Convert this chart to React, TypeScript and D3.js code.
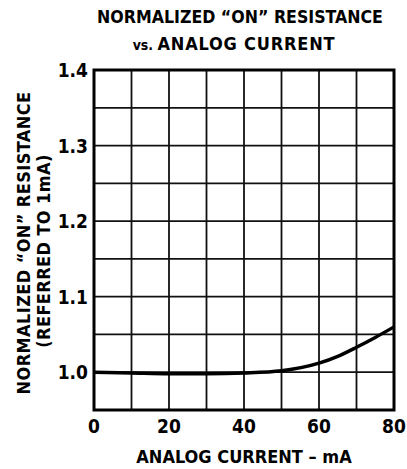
import { useRef, useEffect } from "react";
import * as d3 from "d3";

const currentMa = [0, 10, 20, 30, 40, 50, 60, 65, 70, 75, 80];
const normResistance = [1.0, 0.999, 0.998, 0.998, 0.999, 1.002, 1.012, 1.021, 1.033, 1.046, 1.06];
const xTicks = [0, 20, 40, 60, 80];
const yTicks = [1.0, 1.1, 1.2, 1.3, 1.4];

const FONT = "'Liberation Sans Narrow', 'DejaVu Sans Condensed', 'Liberation Sans', sans-serif";

export default function App() {
  const svgRef = useRef<SVGSVGElement>(null);

  useEffect(() => {
    const w = 407;
    const h = 469;
    const left = 94, right = 394, top = 70, bottom = 410;

    const x = d3.scaleLinear().domain([0, 80]).range([left, right]);
    const y = d3.scaleLinear().domain([0.95, 1.4]).range([bottom, top]);

    const svg = d3.select(svgRef.current);
    svg.selectAll("*").remove();
    svg.attr("width", w).attr("height", h);

    const grid = svg.append("g");
    d3.range(10, 80, 10).forEach((v) => {
      grid.append("line")
        .attr("x1", x(v)).attr("x2", x(v))
        .attr("y1", top).attr("y2", bottom)
        .attr("stroke", "#111").attr("stroke-width", 1.8);
    });
    d3.range(1.0, 1.4, 0.05).forEach((v) => {
      grid.append("line")
        .attr("x1", left).attr("x2", right)
        .attr("y1", y(v)).attr("y2", y(v))
        .attr("stroke", "#111").attr("stroke-width", 1.8);
    });

    svg.append("rect")
      .attr("x", left).attr("y", top)
      .attr("width", right - left).attr("height", bottom - top)
      .attr("fill", "none").attr("stroke", "#000").attr("stroke-width", 3);

    const line = d3.line<number>()
      .x((_, i) => x(currentMa[i]))
      .y((d) => y(d))
      .curve(d3.curveMonotoneX);

    svg.append("path")
      .attr("d", line(normResistance))
      .attr("fill", "none").attr("stroke", "#000").attr("stroke-width", 3.4);

    const txt = (sel: any) =>
      sel.attr("font-family", FONT).attr("font-weight", "bold").attr("fill", "#000");

    yTicks.forEach((v) => {
      svg.append("text").call(txt)
        .attr("x", left - 6).attr("y", y(v) + 7)
        .attr("text-anchor", "end").attr("font-size", 19)
        .text(d3.format(".1f")(v));
    });

    xTicks.forEach((v) => {
      svg.append("text").call(txt)
        .attr("x", x(v)).attr("y", 433)
        .attr("text-anchor", "middle").attr("font-size", 19)
        .text(v);
    });

    svg.append("text").call(txt)
      .attr("x", 244).attr("y", 463)
      .attr("text-anchor", "middle").attr("font-size", 18)
      .text("ANALOG CURRENT – mA");

    svg.append("text").call(txt)
      .attr("x", 240).attr("y", 23)
      .attr("text-anchor", "middle").attr("font-size", 17.6)
      .text("NORMALIZED “ON” RESISTANCE");

    const t2 = svg.append("text").call(txt)
      .attr("x", 234).attr("y", 50)
      .attr("text-anchor", "middle").attr("font-size", 18)
      .attr("letter-spacing", 0.8);
    t2.append("tspan").attr("font-size", 14).attr("letter-spacing", 0).text("vs. ");
    t2.append("tspan").text("ANALOG CURRENT");

    const yt = svg.append("g").attr("transform", "translate(30,243) rotate(-90)");
    yt.append("text").call(txt)
      .attr("x", 0).attr("y", 0)
      .attr("text-anchor", "middle").attr("font-size", 18)
      .attr("letter-spacing", 0.4)
      .text("NORMALIZED “ON” RESISTANCE");
    yt.append("text").call(txt)
      .attr("x", -8).attr("y", 20)
      .attr("text-anchor", "middle").attr("font-size", 18)
      .attr("letter-spacing", 0.4)
      .text("(REFERRED TO 1mA)");
  }, []);

  return (
    <svg ref={svgRef} style={{ position: "absolute", left: 0, top: 0, background: "#fff" }} />
  );
}
